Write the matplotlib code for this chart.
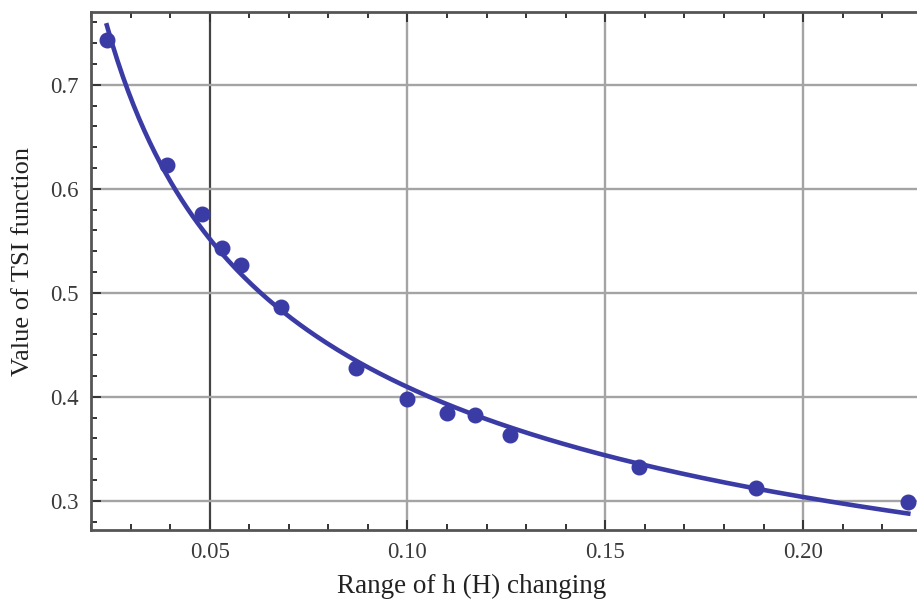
import matplotlib
matplotlib.use('Agg')
import matplotlib.pyplot as plt
import numpy as np
from matplotlib.ticker import MultipleLocator, FormatStrFormatter

plt.rcParams['font.family'] = ['Liberation Serif', 'DejaVu Serif']

# measured TSI values
h_range = [0.0240, 0.0392, 0.0480, 0.0530, 0.0579, 0.0680, 0.0869,
           0.0998, 0.1100, 0.1170, 0.1258, 0.1586, 0.1880, 0.2266]
tsi_value = [0.743, 0.623, 0.576, 0.543, 0.527, 0.4865, 0.428,
             0.398, 0.3846, 0.383, 0.3635, 0.3327, 0.3125, 0.299]

x_ticks = [0.05, 0.10, 0.15, 0.20]
y_ticks = [0.3, 0.4, 0.5, 0.6, 0.7]

# power-law fit y = a * x^b of the measured points
b, log_a = np.polyfit(np.log(h_range), np.log(tsi_value), 1)
xs = np.linspace(min(h_range), max(h_range), 300)
ys = np.exp(log_a) * xs ** b

blue = '#3b3ba6'
txt = '#3a3a3a'

fig = plt.figure(figsize=(9.17, 6.06), dpi=100)
ax = fig.add_axes([91 / 917, 1 - 530 / 606, 1 - 91 / 917, (530 - 12) / 606])

ax.set_xlim(0.0200, 0.2288)
ax.set_ylim(0.272, 0.770)

for xv in x_ticks:
    if xv == 0.05:
        ax.axvline(xv, color='#444444', lw=1.6, zorder=1)
    else:
        ax.axvline(xv, color='#a4a4a4', lw=1.7, zorder=1)
for yv in y_ticks:
    ax.axhline(yv, color='#a4a4a4', lw=1.7, zorder=1)

ax.plot(xs, ys, color=blue, lw=3.3, zorder=3)
ax.plot(h_range, tsi_value, 'o', color=blue, ms=10.5, zorder=4)

ax.set_xticks(x_ticks)
ax.set_yticks(y_ticks)
ax.xaxis.set_major_formatter(FormatStrFormatter('%.2f'))
ax.yaxis.set_major_formatter(FormatStrFormatter('%.1f'))
ax.xaxis.set_minor_locator(MultipleLocator(0.01))
ax.yaxis.set_minor_locator(MultipleLocator(0.02))
ax.tick_params(which='both', direction='in', top=True, right=False,
               colors='#333333', labelcolor=txt, labelsize=16.5)
ax.tick_params(which='major', length=7, width=1.4, pad=9)
ax.tick_params(which='minor', length=4, width=1.4)

for side in ['left', 'bottom', 'top']:
    ax.spines[side].set_color('#555555')
    ax.spines[side].set_linewidth(2)
ax.spines['right'].set_visible(False)

ax.set_xlabel('Range of h (H) changing', fontsize=19.5, color='#222222')
ax.set_ylabel('Value of TSI function', fontsize=19, color='#222222')
ax.xaxis.set_label_coords((472 - 91) / 826, -(574 - 530) / 518)
ax.yaxis.set_label_coords(-(91 - 34) / 826, (530 - 262) / 518)

fig.savefig('out.png', dpi=100)
